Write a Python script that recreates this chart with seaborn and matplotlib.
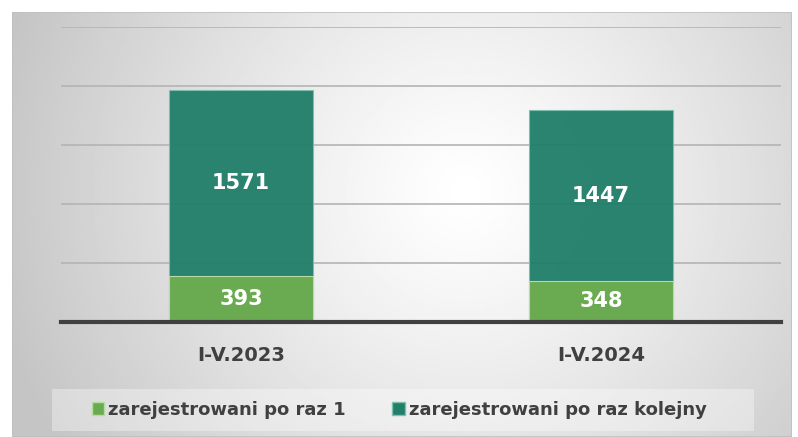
import numpy as np
import pandas as pd
import matplotlib
matplotlib.use('Agg')
import matplotlib.pyplot as plt
from matplotlib.patches import Patch, Rectangle
import seaborn as sns

# data
periods = ['I-V.2023', 'I-V.2024']
first_time = [393, 348]          # zarejestrowani po raz 1
next_time = [1571, 1447]         # zarejestrowani po raz kolejny
series_names = ['zarejestrowani po raz 1', 'zarejestrowani po raz kolejny']

light_green = '#6aab52'
dark_teal = '#217f6a'
text_grey = '#404040'

df = pd.DataFrame({'period': periods, 'first': first_time, 'next': next_time})
df['total'] = df['first'] + df['next']

sns.set_style('white')
plt.rcParams['font.family'] = ['DejaVu Sans']

W, H = 798, 437
fig = plt.figure(figsize=(W / 100, H / 100), dpi=100)

# radial gradient background box
bg = fig.add_axes([12 / W, 0, 780 / W, 1 - 12 / H])
yy, xx = np.mgrid[0:200, 0:360]
cx, cy = 0.58 * 360, 0.42 * 200
r = np.sqrt(((xx - cx) / 360) ** 2 + ((yy - cy) / 200 * 0.55) ** 2)
r = np.clip(r / 0.62, 0, 1)
shade = 1.0 - 0.23 * r ** 1.2
bg.imshow(shade, cmap='gray', vmin=0, vmax=1, aspect='auto', extent=[0, 1, 0, 1])
bg.set_axis_off()
bg.add_patch(Rectangle((0, 0), 1, 1, transform=bg.transAxes, fill=False,
                       edgecolor='#c0c0c0', linewidth=1.2))

# main axes
ax = fig.add_axes([61 / W, 115 / H, 720 / W, 295 / H])
ax.patch.set_alpha(0)

sns.barplot(data=df, x='period', y='total', color=dark_teal, width=0.4,
            saturation=1, edgecolor='#7fbfae', linewidth=0.8, alpha=0.96, ax=ax, zorder=2)
sns.barplot(data=df, x='period', y='first', color=light_green, width=0.4,
            saturation=1, edgecolor='#b5dca4', linewidth=0.8, ax=ax, zorder=3)

ax.set_ylim(0, 2500)
ax.set_xlim(-0.5, 1.5)
ax.set_yticks(np.arange(0, 2501, 500))
ax.yaxis.grid(True, color='#b4b4b4', linewidth=1.2, zorder=0)
ax.set_axisbelow(True)
ax.tick_params(axis='y', left=False, labelleft=False)
ax.tick_params(axis='x', bottom=False, pad=14)
for s in ['top', 'right', 'left']:
    ax.spines[s].set_visible(False)
ax.spines['bottom'].set_color(text_grey)
ax.spines['bottom'].set_linewidth(3)
ax.spines['bottom'].set_zorder(5)
ax.set_xlabel('')
ax.set_ylabel('')
for lbl in ax.get_xticklabels():
    lbl.set_fontsize(14)
    lbl.set_fontweight('bold')
    lbl.set_color(text_grey)

# data labels
for i, row in df.iterrows():
    ax.text(i, row['first'] / 2, str(row['first']), ha='center', va='center',
            color='white', fontsize=15, fontweight='bold', zorder=6)
    ax.text(i, row['first'] + row['next'] / 2, str(row['next']), ha='center',
            va='center', color='white', fontsize=15, fontweight='bold', zorder=6)

# legend band
fig.patches.append(Rectangle((52 / W, (H - 431) / H), 702 / W, 42 / H,
                             transform=fig.transFigure, facecolor='white',
                             alpha=0.35, edgecolor='none', zorder=1))
handles = [Patch(facecolor=light_green, edgecolor='#b5dca4', label=series_names[0]),
           Patch(facecolor=dark_teal, edgecolor='#7fbfae', label=series_names[1])]
leg = fig.legend(handles=handles, loc='center', bbox_to_anchor=(0.5, (H - 410) / H),
                 ncol=2, frameon=False, handlelength=0.7, handleheight=0.7,
                 handletextpad=0.2, columnspacing=2.6,
                 prop={'size': 13, 'weight': 'bold'})
for t in leg.get_texts():
    t.set_color(text_grey)

fig.savefig('out.png', dpi=100)
